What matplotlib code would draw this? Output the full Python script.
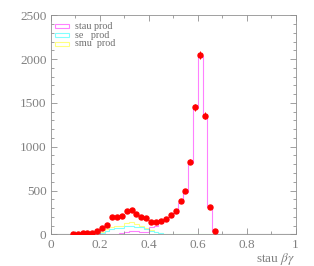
import numpy as np
import matplotlib
matplotlib.use("Agg")
import matplotlib.pyplot as plt
from matplotlib.patches import Rectangle
from matplotlib.ticker import MultipleLocator, FormatStrFormatter

plt.rcParams['font.family'] = ['Liberation Serif', 'DejaVu Serif']
plt.rcParams['mathtext.fontset'] = 'stix'

# bin edges of the histograms (50 bins on 0..1)
edges = np.linspace(0, 1, 51)

# data points (bin centre, counts)
data_x = [0.09, 0.11, 0.13, 0.15, 0.17, 0.19, 0.21, 0.23, 0.25, 0.27,
          0.29, 0.31, 0.33, 0.35, 0.37, 0.39, 0.41, 0.43, 0.45, 0.47,
          0.49, 0.51, 0.53, 0.55, 0.57, 0.59, 0.61, 0.63, 0.65, 0.67]
data_y = [7, 7, 10, 15, 15, 34, 75, 106, 194, 194,
          213, 266, 274, 232, 194, 186, 144, 140, 155, 175,
          217, 262, 380, 494, 829, 1450, 2043, 1354, 312, 38]

# MC histograms, one value per bin starting at 0.00
stau_prod = [0] * 12 + [3, 8, 15, 30, 38, 40, 30, 30,
                        85, 100, 130, 160, 200, 245, 360, 480, 810, 1440,
                        2040, 1350, 310, 35] + [0] * 16
se_prod = [0] * 9 + [5, 15, 40, 60, 70, 75, 95, 100, 85, 80,
                     65, 40, 25, 15, 5] + [0] * 26
smu_prod = [0] * 8 + [3, 8, 25, 60, 80, 90, 100, 135, 140, 115,
                      100, 70, 45, 30, 15, 5] + [0] * 26

labels = ["stau prod", "se   prod", "smu  prod"]
colors = ["#ff80ff", "#80ffff", "#ffff80"]

fig = plt.figure(figsize=(3.14, 2.66), dpi=100)
ax = fig.add_axes([0.1615, 0.119, 0.78, 0.8235])

for vals, c in zip([smu_prod, se_prod, stau_prod], colors[::-1]):
    ax.stairs(vals, edges, color=c, linewidth=0.8, baseline=0)

ax.errorbar(data_x, data_y, yerr=np.sqrt(data_y), fmt='o', color='#ff0000',
            markersize=3.6, elinewidth=0.7, capsize=0, zorder=5)

# legend boxes
for i, (lab, c) in enumerate(zip(labels, colors)):
    yc = 0.951 - i * 0.041
    ax.add_patch(Rectangle((0.018, yc - 0.009), 0.057, 0.018, transform=ax.transAxes,
                           facecolor='none', edgecolor=c, linewidth=0.8))
    ax.text(0.100, yc, lab, transform=ax.transAxes, va='center', ha='left',
            fontsize=7.3, color='#707070')

ax.set_xlim(0, 1)
ax.set_ylim(0, 2500)
ax.xaxis.set_major_locator(MultipleLocator(0.2))
ax.xaxis.set_minor_locator(MultipleLocator(0.1))
ax.yaxis.set_major_locator(MultipleLocator(500))
ax.yaxis.set_minor_locator(MultipleLocator(100))
ax.xaxis.set_major_formatter(FormatStrFormatter('%g'))

ax.tick_params(which='both', direction='in', top=True, right=True,
               colors='#909090', labelcolor='#808080', labelsize=9.5, width=0.6)
ax.tick_params(which='major', length=4, pad=3)
ax.tick_params(which='minor', length=2)
for s in ax.spines.values():
    s.set_color('#909090')
    s.set_linewidth(0.6)

ax.set_xlabel(r'stau $\beta\gamma$', fontsize=9.5, color='#808080', loc='right',
              labelpad=0)

fig.savefig("out.png", dpi=100)
